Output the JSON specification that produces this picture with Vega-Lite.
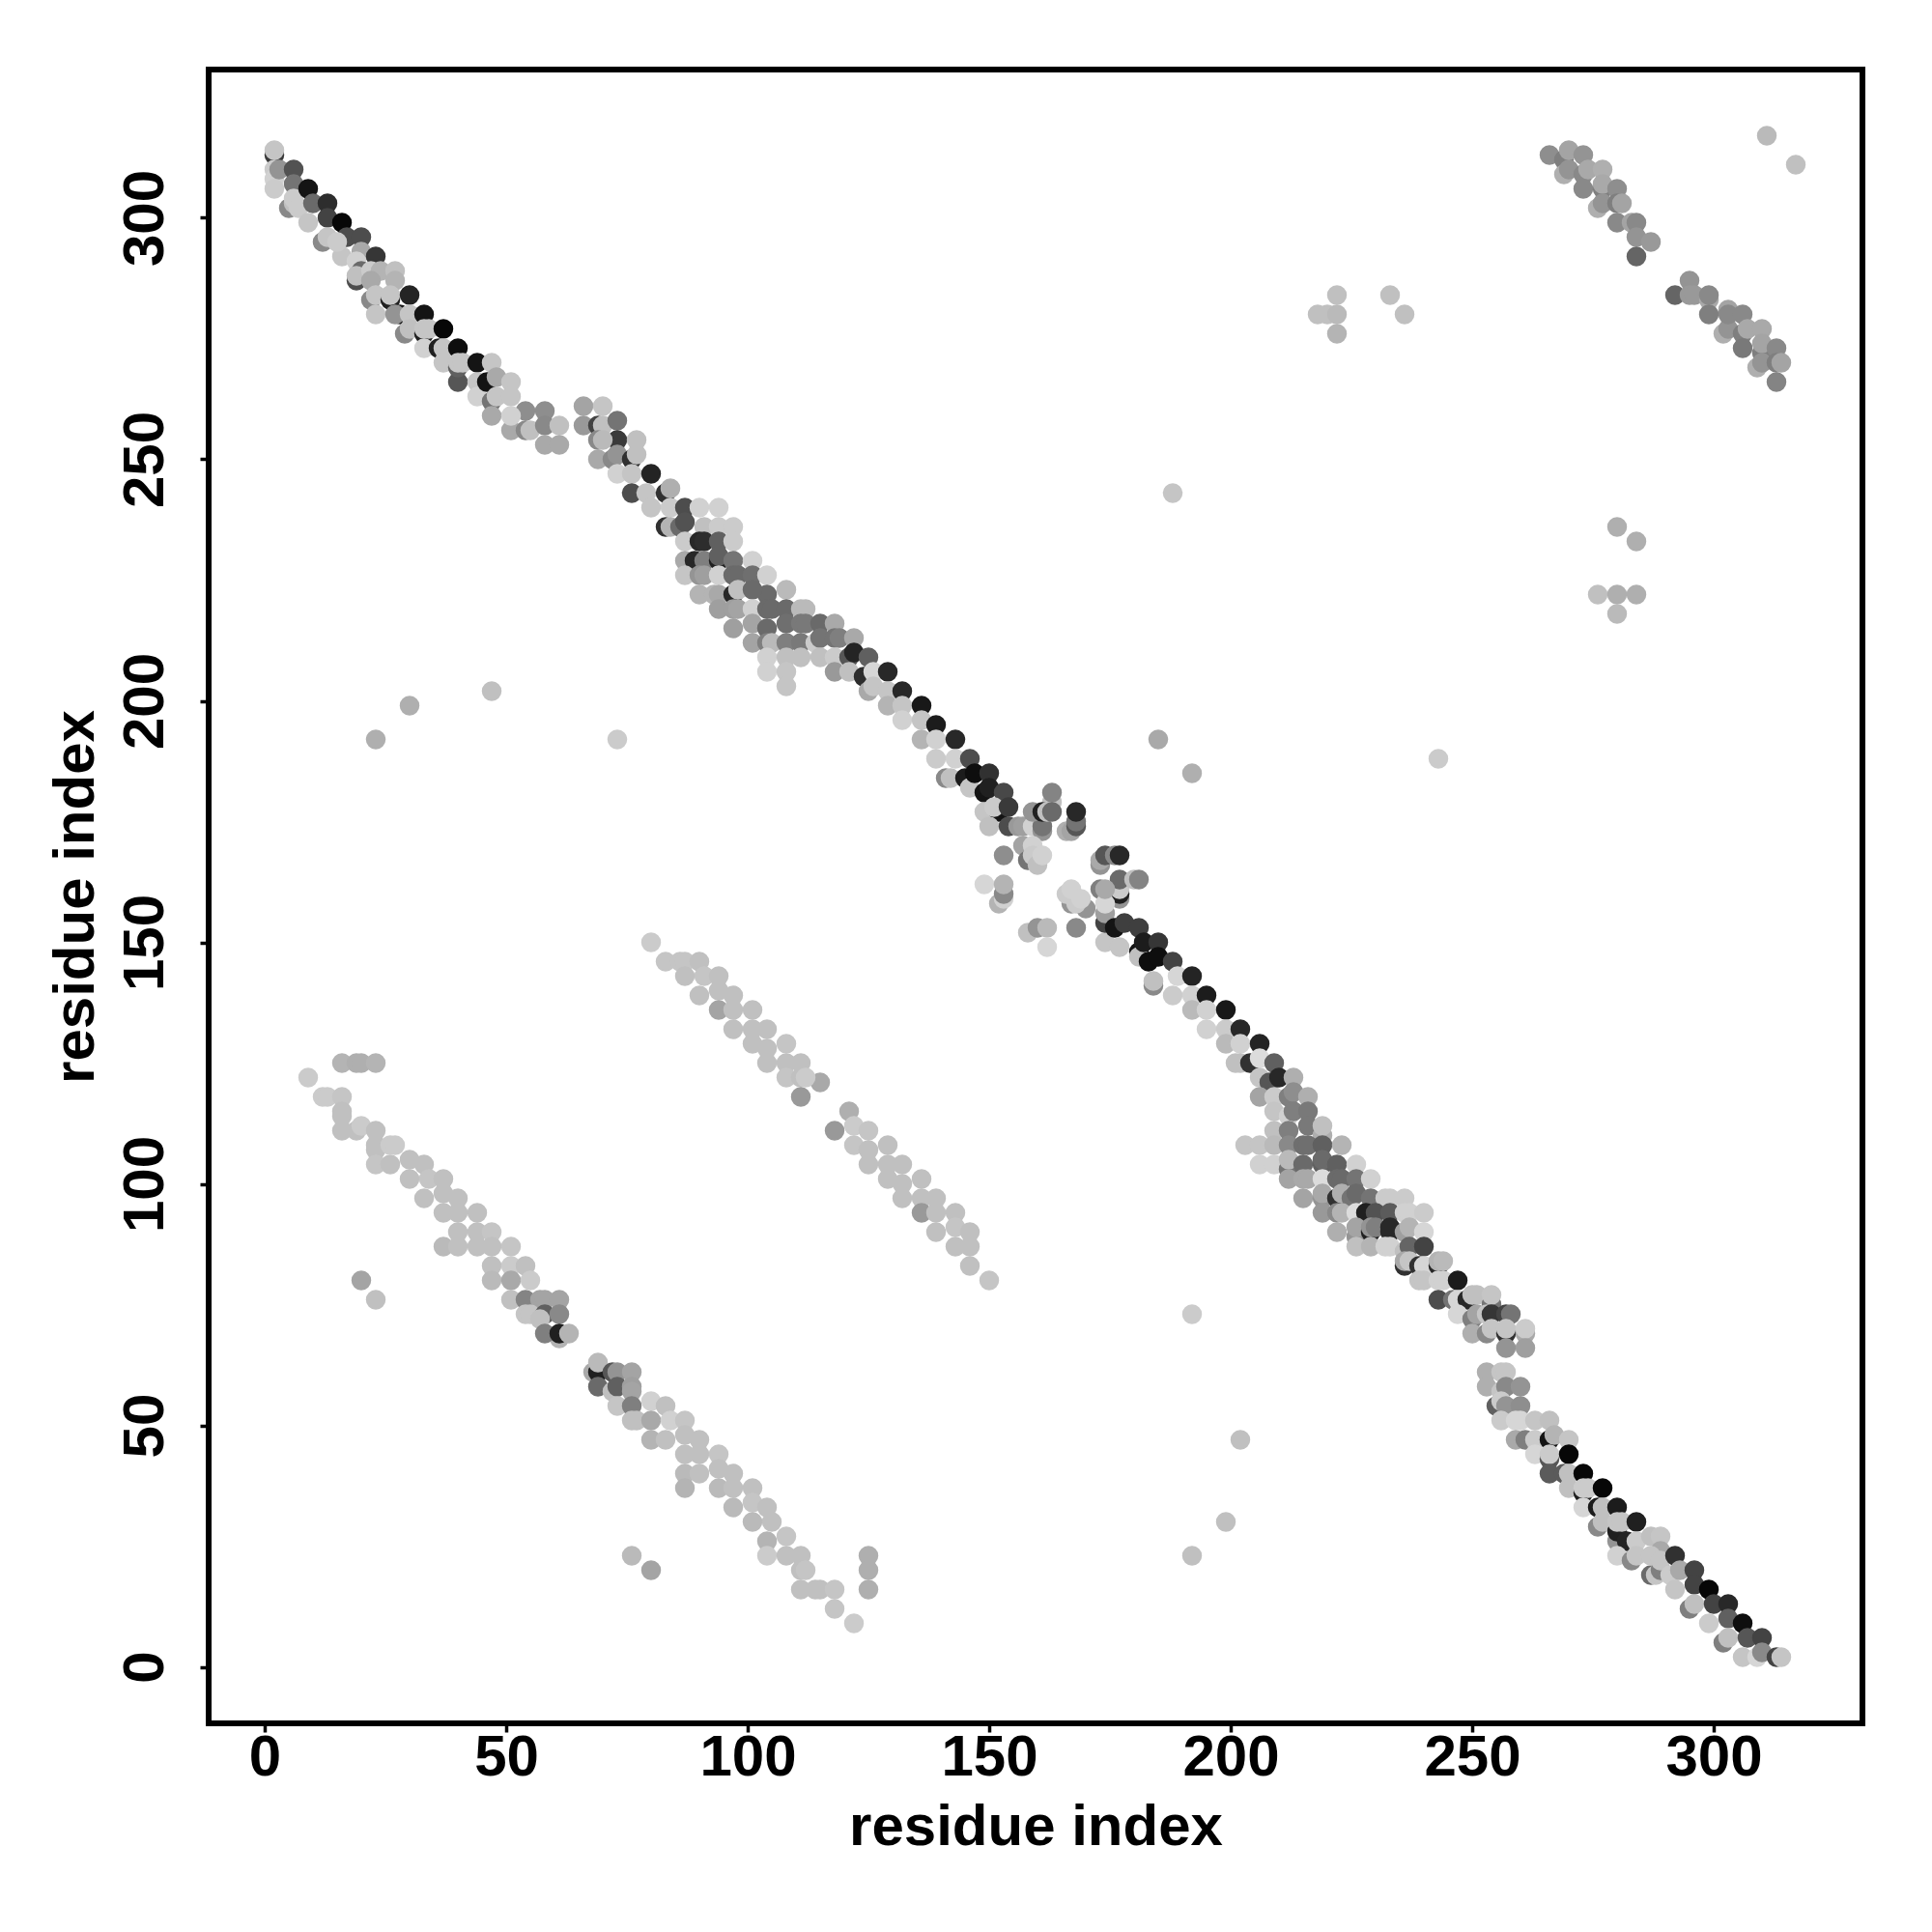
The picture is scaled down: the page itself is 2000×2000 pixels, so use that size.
{"$schema":"https://vega.github.io/schema/vega-lite/v6.json","width":1712,"height":1712,"autosize":{"type":"none"},"padding":{"left":216,"top":72,"right":72,"bottom":216},"background":"white","config":{"view":{"stroke":"#000","strokeWidth":6,"fill":null},"font":"Liberation Sans"},
"data":{"values":[
{"x":2,"y":313,"g":60},{"x":2,"y":314,"g":195},{"x":2,"y":310,"g":200},{"x":2,"y":308,"g":205},{"x":2,"y":306,"g":200},{"x":3,"y":310,"g":150},{"x":5,"y":302,"g":140},{"x":6,"y":303,"g":190},{"x":6,"y":310,"g":85},{"x":6,"y":307,"g":120},{"x":6,"y":304,"g":200},{"x":7,"y":302,"g":200},{"x":9,"y":306,"g":15},{"x":10,"y":303,"g":110},{"x":9,"y":299,"g":195},{"x":13,"y":303,"g":45},{"x":13,"y":300,"g":70},{"x":12,"y":295,"g":140},{"x":13,"y":296,"g":195},{"x":16,"y":299,"g":5},{"x":17,"y":296,"g":80},{"x":16,"y":292,"g":195},{"x":15,"y":295,"g":200},{"x":20,"y":296,"g":80},{"x":20,"y":293,"g":170},{"x":19,"y":291,"g":205},{"x":23,"y":292,"g":55},{"x":19,"y":287,"g":80},{"x":20,"y":289,"g":110},{"x":19,"y":288,"g":190},{"x":22,"y":289,"g":200},{"x":24,"y":289,"g":180},{"x":27,"y":289,"g":190},{"x":22,"y":287,"g":170},{"x":27,"y":287,"g":180},{"x":22,"y":283,"g":140},{"x":23,"y":284,"g":195},{"x":23,"y":280,"g":195},{"x":26,"y":283,"g":30},{"x":26,"y":284,"g":195},{"x":30,"y":284,"g":35},{"x":28,"y":280,"g":20},{"x":27,"y":280,"g":150},{"x":30,"y":280,"g":195},{"x":33,"y":280,"g":15},{"x":29,"y":276,"g":140},{"x":30,"y":277,"g":190},{"x":33,"y":276,"g":30},{"x":33,"y":277,"g":195},{"x":34,"y":277,"g":195},{"x":37,"y":277,"g":5},{"x":33,"y":273,"g":205},{"x":36,"y":273,"g":30},{"x":37,"y":273,"g":195},{"x":37,"y":270,"g":195},{"x":40,"y":273,"g":10},{"x":40,"y":266,"g":90},{"x":40,"y":269,"g":100},{"x":40,"y":270,"g":195},{"x":41,"y":270,"g":195},{"x":44,"y":270,"g":15},{"x":47,"y":270,"g":195},{"x":44,"y":266,"g":195},{"x":44,"y":263,"g":205},{"x":46,"y":266,"g":15},{"x":48,"y":267,"g":170},{"x":51,"y":266,"g":195},{"x":47,"y":262,"g":120},{"x":48,"y":263,"g":195},{"x":51,"y":263,"g":195},{"x":47,"y":259,"g":170},{"x":54,"y":260,"g":145},{"x":58,"y":260,"g":145},{"x":51,"y":256,"g":170},{"x":51,"y":259,"g":205},{"x":54,"y":256,"g":140},{"x":55,"y":256,"g":190},{"x":58,"y":257,"g":140},{"x":61,"y":257,"g":190},{"x":58,"y":253,"g":170},{"x":61,"y":253,"g":170},{"x":66,"y":261,"g":165},{"x":70,"y":261,"g":195},{"x":66,"y":257,"g":155},{"x":69,"y":257,"g":70},{"x":70,"y":257,"g":190},{"x":73,"y":258,"g":120},{"x":73,"y":254,"g":60},{"x":77,"y":254,"g":190},{"x":69,"y":254,"g":140},{"x":70,"y":254,"g":185},{"x":69,"y":250,"g":170},{"x":72,"y":250,"g":140},{"x":73,"y":251,"g":150},{"x":76,"y":250,"g":50},{"x":73,"y":247,"g":205},{"x":77,"y":251,"g":190},{"x":76,"y":247,"g":195},{"x":80,"y":247,"g":35},{"x":76,"y":243,"g":80},{"x":79,"y":243,"g":195},{"x":80,"y":240,"g":195},
{"x":83,"y":243,"g":50},{"x":84,"y":244,"g":175},{"x":84,"y":240,"g":200},{"x":87,"y":240,"g":80},{"x":90,"y":240,"g":205},{"x":94,"y":240,"g":205},{"x":83,"y":236,"g":50},{"x":84,"y":236,"g":180},{"x":86,"y":236,"g":110},{"x":87,"y":237,"g":85},{"x":91,"y":236,"g":190},{"x":94,"y":236,"g":200},{"x":97,"y":236,"g":200},{"x":87,"y":233,"g":200},{"x":90,"y":233,"g":40},{"x":91,"y":233,"g":45},{"x":94,"y":233,"g":100},{"x":97,"y":233,"g":200},{"x":87,"y":229,"g":170},{"x":89,"y":229,"g":40},{"x":91,"y":229,"g":130},{"x":94,"y":229,"g":30},{"x":94,"y":230,"g":100},{"x":97,"y":229,"g":120},{"x":101,"y":229,"g":205},{"x":87,"y":226,"g":195},{"x":90,"y":226,"g":150},{"x":91,"y":226,"g":160},{"x":94,"y":226,"g":205},{"x":97,"y":226,"g":110},{"x":98,"y":226,"g":110},{"x":101,"y":226,"g":115},{"x":104,"y":226,"g":205},{"x":90,"y":222,"g":180},{"x":93,"y":222,"g":180},{"x":94,"y":222,"g":170},{"x":97,"y":222,"g":40},{"x":98,"y":223,"g":190},{"x":104,"y":222,"g":110},{"x":101,"y":223,"g":110},{"x":108,"y":223,"g":185},{"x":94,"y":219,"g":160},{"x":97,"y":219,"g":160},{"x":98,"y":219,"g":165},{"x":101,"y":219,"g":205},{"x":104,"y":219,"g":110},{"x":105,"y":219,"g":110},{"x":108,"y":219,"g":110},{"x":111,"y":219,"g":185},{"x":112,"y":219,"g":185},{"x":97,"y":215,"g":160},{"x":101,"y":216,"g":165},{"x":104,"y":215,"g":110},{"x":108,"y":216,"g":115},{"x":111,"y":216,"g":125},{"x":112,"y":216,"g":125},{"x":115,"y":216,"g":110},{"x":118,"y":216,"g":170},{"x":101,"y":212,"g":165},{"x":104,"y":212,"g":130},{"x":105,"y":212,"g":185},{"x":108,"y":212,"g":130},{"x":111,"y":212,"g":125},{"x":114,"y":212,"g":200},{"x":115,"y":213,"g":120},{"x":118,"y":213,"g":120},{"x":119,"y":213,"g":130},{"x":122,"y":213,"g":170},{"x":104,"y":209,"g":205},{"x":108,"y":209,"g":190},{"x":111,"y":209,"g":190},{"x":115,"y":209,"g":190},{"x":118,"y":209,"g":200},{"x":121,"y":209,"g":90},{"x":122,"y":210,"g":35},{"x":125,"y":209,"g":100},{"x":104,"y":206,"g":205},{"x":108,"y":206,"g":195},{"x":118,"y":206,"g":155},{"x":121,"y":206,"g":190},{"x":124,"y":205,"g":45},{"x":126,"y":206,"g":210},{"x":129,"y":206,"g":40},{"x":108,"y":203,"g":195},{"x":125,"y":202,"g":170},{"x":126,"y":203,"g":195},{"x":129,"y":202,"g":195},{"x":132,"y":202,"g":40},{"x":129,"y":199,"g":180},{"x":132,"y":199,"g":195},{"x":136,"y":199,"g":20},{"x":132,"y":196,"g":205},{"x":136,"y":196,"g":195},{"x":139,"y":195,"g":25},{"x":136,"y":192,"g":180},{"x":139,"y":192,"g":205},{"x":143,"y":192,"g":40},
{"x":73,"y":192,"g":200},{"x":141,"y":184,"g":140},{"x":142,"y":184,"g":190},{"x":139,"y":188,"g":200},{"x":143,"y":188,"g":205},{"x":146,"y":188,"g":80},{"x":145,"y":184,"g":25},{"x":146,"y":182,"g":195},{"x":147,"y":185,"g":10},{"x":150,"y":185,"g":50},{"x":149,"y":181,"g":15},{"x":150,"y":182,"g":30},{"x":153,"y":181,"g":75},{"x":149,"y":177,"g":195},{"x":152,"y":177,"g":15},{"x":151,"y":178,"g":200},{"x":154,"y":178,"g":60},{"x":150,"y":174,"g":190},{"x":154,"y":174,"g":80},{"x":156,"y":174,"g":155},{"x":157,"y":174,"g":160},{"x":159,"y":174,"g":205},{"x":161,"y":173,"g":150},{"x":161,"y":174,"g":120},{"x":163,"y":179,"g":190},{"x":163,"y":181,"g":135},{"x":159,"y":177,"g":150},{"x":161,"y":177,"g":30},{"x":162,"y":177,"g":190},{"x":163,"y":177,"g":110},{"x":166,"y":173,"g":175},{"x":167,"y":173,"g":165},{"x":168,"y":174,"g":90},{"x":168,"y":175,"g":120},{"x":168,"y":177,"g":40},{"x":157,"y":170,"g":165},{"x":158,"y":167,"g":120},{"x":159,"y":170,"g":205},{"x":159,"y":168,"g":200},{"x":160,"y":166,"g":190},{"x":161,"y":168,"g":205},{"x":153,"y":168,"g":145},{"x":173,"y":166,"g":150},{"x":173,"y":167,"g":170},{"x":174,"y":168,"g":90},{"x":176,"y":168,"g":140},{"x":177,"y":168,"g":40},{"x":149,"y":162,"g":210},{"x":152,"y":158,"g":180},{"x":153,"y":159,"g":205},{"x":153,"y":160,"g":140},{"x":153,"y":162,"g":180},{"x":177,"y":159,"g":150},{"x":177,"y":160,"g":30},{"x":177,"y":161,"g":200},{"x":177,"y":163,"g":110},{"x":180,"y":163,"g":190},{"x":181,"y":163,"g":135},{"x":173,"y":161,"g":130},{"x":174,"y":150,"g":195},{"x":174,"y":154,"g":70},{"x":174,"y":156,"g":160},{"x":174,"y":158,"g":210},{"x":174,"y":161,"g":170},{"x":167,"y":158,"g":150},{"x":170,"y":157,"g":150},{"x":166,"y":160,"g":200},{"x":168,"y":158,"g":200},{"x":167,"y":161,"g":205},{"x":169,"y":159,"g":205},{"x":158,"y":152,"g":190},{"x":160,"y":153,"g":150},{"x":162,"y":153,"g":185},{"x":162,"y":149,"g":210},{"x":168,"y":153,"g":140},{"x":176,"y":153,"g":15},{"x":177,"y":149,"g":195},{"x":178,"y":154,"g":65},{"x":181,"y":153,"g":65},{"x":181,"y":148,"g":15},{"x":181,"y":147,"g":190},{"x":182,"y":150,"g":25},{"x":185,"y":150,"g":55},{"x":183,"y":146,"g":10},{"x":185,"y":147,"g":10},{"x":188,"y":146,"g":70},{"x":184,"y":141,"g":140},{"x":184,"y":142,"g":190},{"x":189,"y":143,"g":210},{"x":192,"y":143,"g":35},{"x":188,"y":139,"g":200},{"x":192,"y":139,"g":205},{"x":195,"y":139,"g":25},{"x":192,"y":136,"g":185},{"x":195,"y":136,"g":205},{"x":199,"y":136,"g":20},{"x":195,"y":132,"g":205},{"x":199,"y":132,"g":200},{"x":202,"y":132,"g":40},{"x":199,"y":129,"g":185},{"x":202,"y":129,"g":205},{"x":206,"y":129,"g":35},
{"x":201,"y":125,"g":190},{"x":202,"y":125,"g":190},{"x":204,"y":125,"g":50},{"x":206,"y":126,"g":215},{"x":209,"y":125,"g":100},{"x":206,"y":122,"g":195},{"x":208,"y":121,"g":90},{"x":210,"y":122,"g":40},{"x":213,"y":122,"g":175},{"x":206,"y":118,"g":165},{"x":209,"y":118,"g":200},{"x":212,"y":118,"g":130},{"x":213,"y":119,"g":145},{"x":216,"y":118,"g":175},{"x":209,"y":115,"g":195},{"x":212,"y":114,"g":205},{"x":213,"y":115,"g":130},{"x":216,"y":115,"g":125},{"x":209,"y":111,"g":190},{"x":212,"y":111,"g":130},{"x":216,"y":112,"g":125},{"x":219,"y":110,"g":175},{"x":219,"y":112,"g":190},{"x":203,"y":108,"g":195},{"x":206,"y":108,"g":195},{"x":209,"y":108,"g":185},{"x":212,"y":108,"g":140},{"x":215,"y":108,"g":115},{"x":216,"y":108,"g":115},{"x":219,"y":108,"g":100},{"x":223,"y":108,"g":180},{"x":206,"y":104,"g":205},{"x":209,"y":104,"g":205},{"x":212,"y":103,"g":120},{"x":212,"y":105,"g":185},{"x":215,"y":104,"g":110},{"x":219,"y":104,"g":100},{"x":219,"y":105,"g":110},{"x":222,"y":104,"g":100},{"x":226,"y":104,"g":205},{"x":212,"y":101,"g":165},{"x":215,"y":101,"g":170},{"x":216,"y":101,"g":170},{"x":219,"y":101,"g":215},{"x":222,"y":101,"g":110},{"x":223,"y":101,"g":110},{"x":226,"y":101,"g":120},{"x":229,"y":101,"g":205},{"x":215,"y":97,"g":165},{"x":219,"y":97,"g":150},{"x":219,"y":98,"g":170},{"x":222,"y":97,"g":50},{"x":223,"y":98,"g":175},{"x":225,"y":97,"g":120},{"x":226,"y":98,"g":110},{"x":229,"y":97,"g":120},{"x":232,"y":97,"g":200},{"x":233,"y":97,"g":200},{"x":236,"y":97,"g":200},{"x":219,"y":94,"g":155},{"x":222,"y":94,"g":140},{"x":223,"y":94,"g":180},{"x":226,"y":94,"g":215},{"x":228,"y":94,"g":30},{"x":230,"y":94,"g":85},{"x":233,"y":94,"g":95},{"x":236,"y":94,"g":205},{"x":237,"y":94,"g":205},{"x":240,"y":94,"g":200},{"x":222,"y":90,"g":175},{"x":226,"y":89,"g":150},{"x":226,"y":91,"g":165},{"x":229,"y":90,"g":30},{"x":229,"y":91,"g":150},{"x":230,"y":91,"g":130},{"x":233,"y":90,"g":40},{"x":233,"y":91,"g":40},{"x":236,"y":90,"g":160},{"x":237,"y":91,"g":180},{"x":240,"y":90,"g":210},{"x":226,"y":87,"g":190},{"x":229,"y":87,"g":180},{"x":232,"y":87,"g":205},{"x":233,"y":87,"g":205},{"x":236,"y":86,"g":190},{"x":237,"y":87,"g":105},{"x":240,"y":87,"g":70},{"x":236,"y":83,"g":50},{"x":236,"y":84,"g":170},{"x":237,"y":84,"g":195},{"x":239,"y":83,"g":50},{"x":240,"y":83,"g":210},{"x":243,"y":83,"g":40},{"x":243,"y":84,"g":180},{"x":244,"y":84,"g":185},{"x":239,"y":80,"g":195},{"x":240,"y":80,"g":195},{"x":243,"y":80,"g":205},{"x":244,"y":80,"g":205},{"x":247,"y":80,"g":25},{"x":243,"y":76,"g":80},{"x":246,"y":76,"g":120},{"x":247,"y":76,"g":210},{"x":249,"y":76,"g":40},{"x":250,"y":77,"g":190},{"x":251,"y":77,"g":190},{"x":254,"y":75,"g":120},{"x":254,"y":77,"g":195},{"x":247,"y":73,"g":210},{"x":250,"y":72,"g":130},{"x":251,"y":73,"g":165},{"x":253,"y":73,"g":195},{"x":254,"y":73,"g":55},{"x":257,"y":73,"g":70},{"x":258,"y":73,"g":120},{"x":250,"y":69,"g":175},{"x":253,"y":69,"g":140},{"x":254,"y":70,"g":195},{"x":257,"y":69,"g":50},{"x":257,"y":70,"g":195},{"x":261,"y":69,"g":170},{"x":261,"y":70,"g":200},{"x":257,"y":66,"g":150},{"x":261,"y":66,"g":160},{"x":192,"y":73,"g":200},
{"x":253,"y":61,"g":175},{"x":256,"y":61,"g":195},{"x":257,"y":61,"g":195},{"x":253,"y":58,"g":175},{"x":256,"y":57,"g":195},{"x":257,"y":58,"g":140},{"x":260,"y":58,"g":150},{"x":255,"y":54,"g":100},{"x":256,"y":55,"g":200},{"x":257,"y":54,"g":150},{"x":260,"y":54,"g":145},{"x":256,"y":51,"g":200},{"x":259,"y":51,"g":210},{"x":260,"y":51,"g":210},{"x":263,"y":51,"g":195},{"x":266,"y":51,"g":190},{"x":259,"y":47,"g":170},{"x":261,"y":47,"g":130},{"x":263,"y":47,"g":200},{"x":266,"y":47,"g":15},{"x":267,"y":48,"g":180},{"x":270,"y":47,"g":195},{"x":263,"y":44,"g":210},{"x":266,"y":43,"g":90},{"x":266,"y":44,"g":200},{"x":270,"y":44,"g":5},{"x":266,"y":40,"g":95},{"x":269,"y":40,"g":95},{"x":270,"y":40,"g":190},{"x":273,"y":40,"g":5},{"x":270,"y":37,"g":190},{"x":273,"y":36,"g":30},{"x":273,"y":37,"g":200},{"x":274,"y":37,"g":200},{"x":277,"y":37,"g":5},{"x":273,"y":33,"g":210},{"x":276,"y":33,"g":25},{"x":277,"y":33,"g":190},{"x":280,"y":33,"g":25},{"x":276,"y":29,"g":140},{"x":277,"y":30,"g":190},{"x":280,"y":26,"g":150},{"x":280,"y":28,"g":30},{"x":280,"y":30,"g":195},{"x":281,"y":30,"g":195},{"x":284,"y":30,"g":30},{"x":282,"y":26,"g":35},{"x":280,"y":23,"g":205},{"x":283,"y":22,"g":140},{"x":284,"y":26,"g":200},{"x":284,"y":23,"g":195},{"x":287,"y":27,"g":190},{"x":289,"y":27,"g":195},{"x":287,"y":19,"g":110},{"x":288,"y":19,"g":195},{"x":289,"y":24,"g":170},{"x":287,"y":23,"g":195},{"x":289,"y":20,"g":130},{"x":289,"y":22,"g":195},{"x":292,"y":23,"g":50},{"x":291,"y":19,"g":200},{"x":293,"y":20,"g":170},{"x":296,"y":20,"g":70},{"x":292,"y":16,"g":195},{"x":296,"y":17,"g":70},{"x":299,"y":16,"g":5},{"x":295,"y":12,"g":130},{"x":296,"y":13,"g":190},{"x":300,"y":13,"g":70},{"x":303,"y":13,"g":40},{"x":299,"y":9,"g":200},{"x":303,"y":10,"g":100},{"x":306,"y":9,"g":10},{"x":302,"y":5,"g":130},{"x":303,"y":6,"g":190},{"x":307,"y":6,"g":90},{"x":310,"y":6,"g":70},{"x":306,"y":2,"g":195},{"x":309,"y":2,"g":210},{"x":310,"y":3,"g":140},{"x":313,"y":2,"g":70},{"x":314,"y":2,"g":195},
{"x":266,"y":313,"g":145},{"x":269,"y":312,"g":130},{"x":269,"y":309,"g":175},{"x":270,"y":310,"g":150},{"x":270,"y":314,"g":165},{"x":273,"y":313,"g":150},{"x":273,"y":309,"g":140},{"x":274,"y":310,"g":170},{"x":277,"y":310,"g":175},{"x":273,"y":306,"g":140},{"x":277,"y":306,"g":130},{"x":277,"y":307,"g":170},{"x":276,"y":302,"g":175},{"x":277,"y":303,"g":150},{"x":280,"y":306,"g":145},{"x":280,"y":303,"g":130},{"x":281,"y":303,"g":165},{"x":280,"y":299,"g":140},{"x":283,"y":299,"g":165},{"x":284,"y":299,"g":140},{"x":284,"y":296,"g":150},{"x":287,"y":295,"g":155},{"x":284,"y":292,"g":105},{"x":292,"y":284,"g":105},{"x":295,"y":287,"g":150},{"x":295,"y":284,"g":155},{"x":296,"y":284,"g":155},{"x":299,"y":283,"g":170},{"x":299,"y":284,"g":140},{"x":299,"y":280,"g":130},{"x":302,"y":276,"g":175},{"x":303,"y":277,"g":150},{"x":303,"y":281,"g":165},{"x":303,"y":280,"g":140},{"x":306,"y":280,"g":140},{"x":306,"y":276,"g":130},{"x":307,"y":277,"g":170},{"x":310,"y":277,"g":170},{"x":306,"y":273,"g":125},{"x":310,"y":272,"g":130},{"x":310,"y":274,"g":165},{"x":309,"y":269,"g":175},{"x":310,"y":270,"g":150},{"x":313,"y":273,"g":140},{"x":313,"y":270,"g":130},{"x":314,"y":270,"g":165},{"x":313,"y":266,"g":135},{"x":311,"y":317,"g":185},{"x":317,"y":311,"g":190},
{"x":16,"y":125,"g":180},{"x":19,"y":125,"g":175},{"x":20,"y":125,"g":175},{"x":23,"y":125,"g":180},{"x":9,"y":122,"g":200},{"x":12,"y":118,"g":200},{"x":13,"y":118,"g":200},{"x":16,"y":118,"g":195},{"x":16,"y":115,"g":190},{"x":16,"y":114,"g":190},{"x":16,"y":111,"g":190},{"x":19,"y":111,"g":190},{"x":20,"y":112,"g":200},{"x":23,"y":111,"g":190},{"x":23,"y":108,"g":190},{"x":23,"y":107,"g":190},{"x":23,"y":104,"g":195},{"x":26,"y":104,"g":190},{"x":26,"y":108,"g":200},{"x":27,"y":108,"g":200},{"x":30,"y":105,"g":190},{"x":30,"y":101,"g":190},{"x":33,"y":104,"g":190},{"x":33,"y":97,"g":190},{"x":34,"y":101,"g":195},{"x":37,"y":101,"g":190},{"x":37,"y":94,"g":190},{"x":37,"y":98,"g":190},{"x":40,"y":97,"g":190},{"x":40,"y":90,"g":190},{"x":40,"y":94,"g":190},{"x":44,"y":94,"g":190},{"x":44,"y":87,"g":190},{"x":44,"y":90,"g":190},{"x":47,"y":90,"g":195},{"x":37,"y":87,"g":185},{"x":40,"y":87,"g":190},{"x":47,"y":87,"g":190},{"x":51,"y":87,"g":195},{"x":47,"y":83,"g":190},{"x":47,"y":80,"g":185},{"x":51,"y":83,"g":200},{"x":54,"y":83,"g":190},{"x":51,"y":80,"g":170},{"x":55,"y":80,"g":200},{"x":51,"y":76,"g":190},{"x":54,"y":76,"g":135},{"x":57,"y":76,"g":165},{"x":58,"y":76,"g":165},{"x":61,"y":76,"g":165},{"x":54,"y":73,"g":195},{"x":55,"y":73,"g":195},{"x":58,"y":73,"g":100},{"x":57,"y":72,"g":190},{"x":61,"y":73,"g":140},{"x":61,"y":68,"g":180},{"x":58,"y":69,"g":130},{"x":61,"y":69,"g":30},{"x":63,"y":69,"g":180},{"x":20,"y":80,"g":165},{"x":23,"y":76,"g":190},
{"x":68,"y":61,"g":170},{"x":69,"y":61,"g":30},{"x":69,"y":63,"g":185},{"x":69,"y":58,"g":110},{"x":72,"y":61,"g":90},{"x":73,"y":61,"g":150},{"x":76,"y":61,"g":165},{"x":72,"y":57,"g":190},{"x":73,"y":58,"g":100},{"x":76,"y":58,"g":160},{"x":76,"y":57,"g":165},{"x":73,"y":54,"g":195},{"x":76,"y":54,"g":130},{"x":80,"y":55,"g":205},{"x":83,"y":54,"g":190},{"x":76,"y":51,"g":190},{"x":77,"y":51,"g":190},{"x":80,"y":51,"g":170},{"x":80,"y":47,"g":180},{"x":83,"y":47,"g":190},{"x":84,"y":51,"g":205},{"x":87,"y":51,"g":195},{"x":87,"y":48,"g":190},{"x":87,"y":44,"g":190},{"x":90,"y":47,"g":190},{"x":90,"y":44,"g":190},{"x":94,"y":44,"g":195},{"x":87,"y":40,"g":185},{"x":87,"y":37,"g":180},{"x":90,"y":40,"g":190},{"x":94,"y":41,"g":190},{"x":94,"y":37,"g":185},{"x":97,"y":40,"g":190},{"x":97,"y":37,"g":190},{"x":97,"y":33,"g":185},{"x":101,"y":37,"g":190},{"x":101,"y":34,"g":195},{"x":101,"y":30,"g":185},{"x":104,"y":33,"g":190},{"x":105,"y":30,"g":190},{"x":104,"y":26,"g":180},{"x":104,"y":23,"g":200},{"x":108,"y":27,"g":195},{"x":108,"y":23,"g":190},{"x":111,"y":23,"g":190},{"x":111,"y":20,"g":190},{"x":112,"y":20,"g":195},{"x":111,"y":16,"g":190},{"x":114,"y":16,"g":190},{"x":115,"y":16,"g":190},{"x":118,"y":16,"g":195},{"x":118,"y":12,"g":195},{"x":122,"y":9,"g":200},{"x":125,"y":23,"g":175},{"x":125,"y":20,"g":175},{"x":125,"y":16,"g":175},{"x":76,"y":23,"g":185},{"x":80,"y":20,"g":165},
{"x":80,"y":150,"g":200},{"x":83,"y":146,"g":195},{"x":86,"y":146,"g":195},{"x":87,"y":146,"g":195},{"x":90,"y":146,"g":190},{"x":87,"y":143,"g":190},{"x":91,"y":143,"g":195},{"x":94,"y":143,"g":190},{"x":90,"y":139,"g":190},{"x":94,"y":140,"g":190},{"x":97,"y":139,"g":190},{"x":94,"y":136,"g":165},{"x":97,"y":136,"g":190},{"x":101,"y":136,"g":190},{"x":97,"y":132,"g":190},{"x":101,"y":132,"g":190},{"x":104,"y":132,"g":190},{"x":101,"y":129,"g":190},{"x":104,"y":128,"g":190},{"x":108,"y":129,"g":195},{"x":104,"y":125,"g":190},{"x":108,"y":125,"g":190},{"x":111,"y":125,"g":190},{"x":108,"y":122,"g":195},{"x":111,"y":122,"g":190},{"x":111,"y":118,"g":155},{"x":115,"y":121,"g":170},{"x":112,"y":122,"g":200},{"x":121,"y":115,"g":175},{"x":118,"y":111,"g":155},{"x":122,"y":112,"g":200},{"x":125,"y":111,"g":195},{"x":122,"y":108,"g":195},{"x":125,"y":107,"g":190},{"x":129,"y":108,"g":190},{"x":125,"y":104,"g":190},{"x":129,"y":104,"g":190},{"x":132,"y":104,"g":190},{"x":129,"y":101,"g":190},{"x":132,"y":100,"g":190},{"x":136,"y":101,"g":190},{"x":132,"y":97,"g":190},{"x":136,"y":97,"g":190},{"x":139,"y":97,"g":190},{"x":136,"y":94,"g":155},{"x":139,"y":94,"g":190},{"x":143,"y":94,"g":190},{"x":139,"y":90,"g":190},{"x":143,"y":91,"g":195},{"x":146,"y":90,"g":190},{"x":143,"y":87,"g":190},{"x":146,"y":87,"g":190},{"x":146,"y":83,"g":190},{"x":150,"y":80,"g":195},
{"x":23,"y":192,"g":175},{"x":30,"y":199,"g":175},{"x":47,"y":202,"g":190},{"x":185,"y":192,"g":170},{"x":192,"y":185,"g":175},{"x":243,"y":188,"g":200},{"x":188,"y":243,"g":195},{"x":218,"y":280,"g":190},{"x":220,"y":280,"g":190},{"x":222,"y":284,"g":190},{"x":222,"y":280,"g":185},{"x":222,"y":276,"g":180},{"x":233,"y":284,"g":190},{"x":236,"y":280,"g":190},{"x":280,"y":236,"g":175},{"x":284,"y":233,"g":175},{"x":276,"y":222,"g":190},{"x":280,"y":222,"g":175},{"x":284,"y":222,"g":175},{"x":280,"y":218,"g":185},{"x":202,"y":47,"g":190},{"x":199,"y":30,"g":190},{"x":192,"y":23,"g":190}
]},
"mark":{"type":"circle","size":420,"opacity":1},
"encoding":{
"x":{"field":"x","type":"quantitative","scale":{"domain":[-11.6,330.8],"nice":false,"zero":false},"axis":{"values":[0,50,100,150,200,250,300],"title":"residue index","grid":false,"domain":false,"tickColor":"#000","tickWidth":3.5,"tickSize":9,"labelFont":"Liberation Sans","labelFontWeight":"bold","labelFontSize":60,"labelColor":"#000","labelPadding":-3,"labelFlush":false,"titleFont":"Liberation Sans","titleFontWeight":"bold","titleFontSize":60,"titleColor":"#000","titlePadding":13}},
"y":{"field":"y","type":"quantitative","scale":{"domain":[-11.7,330.7],"nice":false,"zero":false},"axis":{"values":[0,50,100,150,200,250,300],"title":"residue index","grid":false,"domain":false,"tickColor":"#000","tickWidth":3.5,"tickSize":9,"labelFont":"Liberation Sans","labelFontWeight":"bold","labelFontSize":60,"labelColor":"#000","labelAngle":-90,"labelAlign":"center","labelBaseline":"bottom","labelPadding":26,"labelFlush":false,"titleFont":"Liberation Sans","titleFontWeight":"bold","titleFontSize":60,"titleColor":"#000","titlePadding":11}},
"color":{"field":"g","type":"quantitative","scale":{"domain":[0,245],"range":["#000000","#ffffff"]},"legend":null}
}}
